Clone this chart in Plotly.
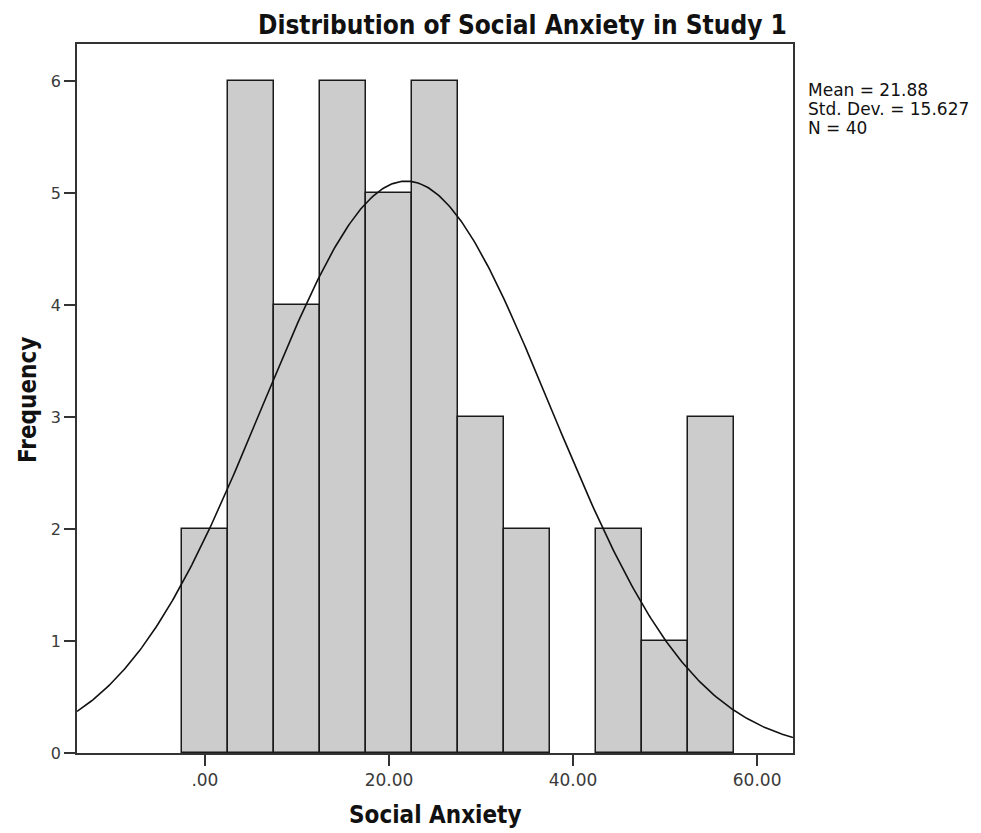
import numpy as np
import plotly.graph_objects as go

# Data
bin_centers = [0, 5, 10, 15, 20, 25, 30, 35, 40, 45, 50, 55]
frequencies = [2, 6, 4, 6, 5, 6, 3, 2, 0, 2, 1, 3]
bin_width = 5
mean_val = 21.88
sd_val = 15.627
n_val = 40
x_tick_vals = [0, 20, 40, 60]
x_tick_text = [".00", "20.00", "40.00", "60.00"]
y_tick_vals = [0, 1, 2, 3, 4, 5, 6]

x_range = [-13.9, 63.9]
y_range = [0, 6.33]

# Fitted normal curve (scaled to counts)
xs = np.linspace(x_range[0], x_range[1], 400)
ys = n_val * bin_width * np.exp(-0.5 * ((xs - mean_val) / sd_val) ** 2) / (sd_val * np.sqrt(2 * np.pi))

COND = "DejaVu Sans Condensed, DejaVu Sans, sans-serif"
SANS = "DejaVu Sans, sans-serif"

outline_widths = [1.5 if f > 0 else 0 for f in frequencies]

fig = go.Figure()
fig.add_trace(go.Bar(
    x=bin_centers, y=frequencies, width=bin_width,
    marker=dict(color="#cccccc", line=dict(color="#1a1a1a", width=outline_widths)),
    hoverinfo="x+y",
))
fig.add_trace(go.Scatter(
    x=xs, y=ys, mode="lines",
    line=dict(color="#111111", width=1.6),
    hoverinfo="skip",
))

stats_lines = [f"Mean = {mean_val:.2f}", f"Std. Dev. = {sd_val:.3f}", f"N = {n_val}"]
stats_y = [0.9351, 0.9083, 0.8815]

annotations = [
    dict(text="<b>Distribution of Social Anxiety in Study 1</b>", xref="paper", yref="paper",
         x=0.6229, y=1.0268, xanchor="center", yanchor="middle", showarrow=False,
         font=dict(size=26, color="#111111", family=COND)),
    dict(text="<b>Social Anxiety</b>", xref="paper", yref="paper",
         x=0.5, y=-0.0874, xanchor="center", yanchor="middle", showarrow=False,
         font=dict(size=24, color="#111111", family=COND)),
    dict(text="<b>Frequency</b>", xref="paper", yref="paper", textangle=-90,
         x=-0.0684, y=0.498, xanchor="center", yanchor="middle", showarrow=False,
         font=dict(size=24, color="#111111", family=COND)),
]
for line, yy in zip(stats_lines, stats_y):
    annotations.append(dict(
        text=line, xref="paper", yref="paper", x=1.0182, y=yy,
        xanchor="left", yanchor="middle", align="left", showarrow=False,
        font=dict(size=17, color="#111111", family=SANS),
    ))

fig.update_layout(
    width=973, height=825,
    margin=dict(l=69, r=188, t=36, b=80),
    paper_bgcolor="white", plot_bgcolor="white",
    showlegend=False,
    bargap=0,
    font=dict(family=SANS, color="#222222"),
    xaxis=dict(
        range=x_range, tickvals=x_tick_vals, ticktext=x_tick_text,
        ticks="outside", ticklen=11, tickwidth=1.5, tickcolor="#333333",
        showline=True, linecolor="#333333", linewidth=1.7, mirror=True,
        showgrid=False, zeroline=False,
        tickfont=dict(size=17, color="#3a3a3a", family=SANS),
    ),
    yaxis=dict(
        range=y_range, tickvals=y_tick_vals,
        ticks="outside", ticklen=11, tickwidth=1.5, tickcolor="#333333",
        showline=True, linecolor="#333333", linewidth=1.7, mirror=True,
        showgrid=False, zeroline=False,
        tickfont=dict(size=16, color="#3a3a3a", family=SANS),
    ),
    annotations=annotations,
)

fig.write_html("out.html")
